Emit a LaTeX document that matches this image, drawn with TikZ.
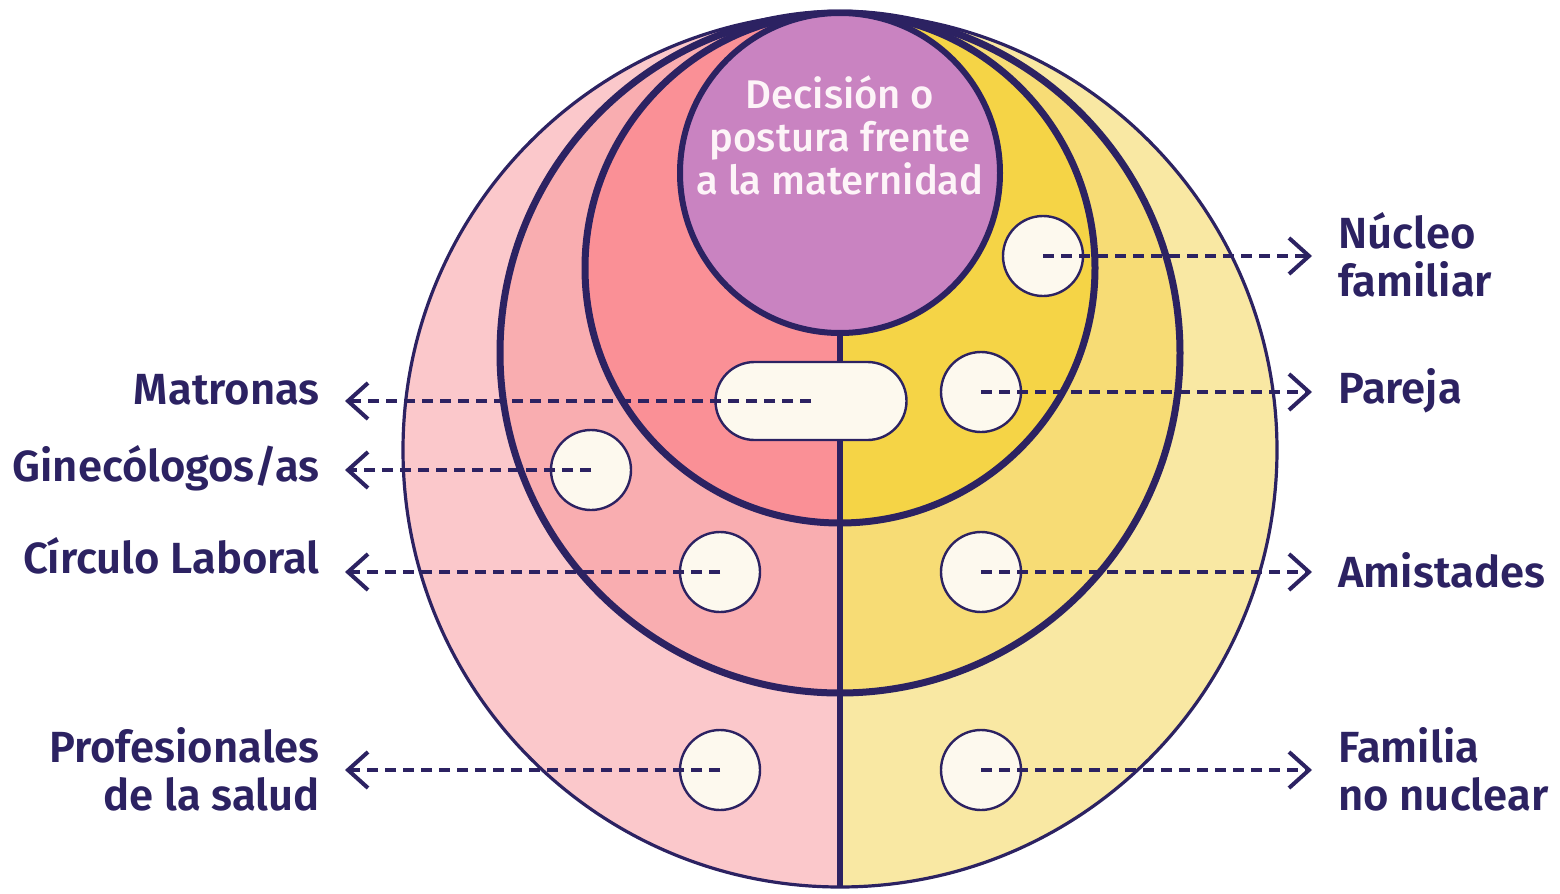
\documentclass[tikz,border=0pt]{standalone}
\usepackage{fontspec}
\setmainfont{Fira Sans}
\newfontfamily\lblfont{Fira Sans SemiBold}
\newfontfamily\ctrfont{Fira Sans Medium}
\usetikzlibrary{arrows.meta}

\definecolor{ink}{HTML}{2C2262}
\definecolor{pinkO}{HTML}{FBC8CB}
\definecolor{pinkM}{HTML}{F9ADB0}
\definecolor{pinkI}{HTML}{FA9096}
\definecolor{yellowO}{HTML}{F9E8A3}
\definecolor{yellowM}{HTML}{F7DC75}
\definecolor{yellowI}{HTML}{F5D446}
\definecolor{lilac}{HTML}{C983C1}
\definecolor{cream}{HTML}{FDF9EE}
\definecolor{paleText}{HTML}{FDF4F8}

\begin{document}
\begin{tikzpicture}[x=0.5pt,y=-0.5pt,
    ring/.style={draw=ink, line width=3.5pt},
    spot/.style={circle, draw=ink, line width=1.2pt, fill=cream, minimum size=40pt, inner sep=0pt},
    pill/.style={rectangle, rounded corners=19.5pt, draw=ink, line width=1.2pt, fill=cream,
        minimum width=95.5pt, minimum height=39pt, inner sep=0pt},
    link/.style={ink, line width=2pt, dash pattern=on 5.5pt off 3.5pt,
        -{Straight Barb[length=10pt,width=18pt,line width=2pt]}},
    lbl/.style={text=ink, font=\lblfont\fontsize{21.8}{24}\selectfont, inner sep=0pt}]
    \useasboundingbox (0,0) rectangle (1560,894);

    % Fill the rings, left half pink and right half yellow
    \begin{scope}
      \clip (0,0) rectangle (840,894);
      \fill[pinkO] (840,450) circle[radius=437];
      \fill[pinkM] (840,353) circle[radius=340];
      \fill[pinkI] (840,268) circle[radius=255];
    \end{scope}
    \begin{scope}
      \clip (840,0) rectangle (1560,894);
      \fill[yellowO] (840,450) circle[radius=437];
      \fill[yellowM] (840,353) circle[radius=340];
      \fill[yellowI] (840,268) circle[radius=255];
    \end{scope}

    % Ring outlines
    \draw[ink, line width=1.6pt] (840,450) circle[radius=437];
    \draw[ring] (840,353) circle[radius=340];
    \draw[ring] (840,268) circle[radius=255];

    % Centre circle and the dividing line
    \node[circle, fill=lilac, draw=ink, line width=3pt, minimum size=160pt, inner sep=0pt] (ctr) at (840,173) {};
    \coordinate (bottom) at (840,887);
    \draw[ink, line width=3pt] (ctr.south) -- (bottom);
    \node[text=paleText, font=\ctrfont\fontsize{20}{21.5}\selectfont, align=center, anchor=base]
        (ctrtext) at (840,194) {Decisión o\\postura frente\\a la maternidad};

    % Small circles
    \node[spot] (nucleo) at (1043,256) {};
    \node[spot] (pareja) at (981,392) {};
    \node[spot] (amistades) at (981,572) {};
    \node[spot] (familia) at (981,770) {};
    \node[pill] (matronas) at (811,401) {};
    \node[spot] (gineco) at (591,470) {};
    \node[spot] (laboral) at (720,572) {};
    \node[spot] (salud) at (720,770) {};

    % Arrow ends
    \coordinate (eNucleo) at (1312,256);
    \coordinate (ePareja) at (1312,392);
    \coordinate (eAmistades) at (1312,572);
    \coordinate (eFamilia) at (1312,770);
    \coordinate (eMatronas) at (345,401);
    \coordinate (eGineco) at (345,470);
    \coordinate (eLaboral) at (345,572);
    \coordinate (eSalud) at (345,770);

    % Dashed arrows
    \draw[link] (nucleo.center) -- (eNucleo);
    \draw[link] (pareja.center) -- (ePareja);
    \draw[link] (amistades.center) -- (eAmistades);
    \draw[link] (familia.center) -- (eFamilia);
    \draw[link] (matronas.center) -- (eMatronas);
    \draw[link] (gineco.center) -- (eGineco);
    \draw[link] (laboral.center) -- (eLaboral);
    \draw[link] (salud.center) -- (eSalud);

    % Labels
    \node[lbl, anchor=base west, align=left] (lNucleo) at (1338,296) {Núcleo\\familiar};
    \node[lbl, anchor=base west] (lPareja) at (1338,403) {Pareja};
    \node[lbl, anchor=base west] (lAmistades) at (1338,587) {Amistades};
    \node[lbl, anchor=base west, align=left] (lFamilia) at (1338,810) {Familia\\no nuclear};
    \node[lbl, anchor=base east] (lMatronas) at (320,404) {Matronas};
    \node[lbl, anchor=base east] (lGineco) at (320,481) {Ginecólogos/as};
    \node[lbl, anchor=base east] (lLaboral) at (320,573) {Círculo Laboral};
    \node[lbl, anchor=base east, align=right] (lSalud) at (320,810) {Profesionales\\de la salud};
\end{tikzpicture}
\end{document}
